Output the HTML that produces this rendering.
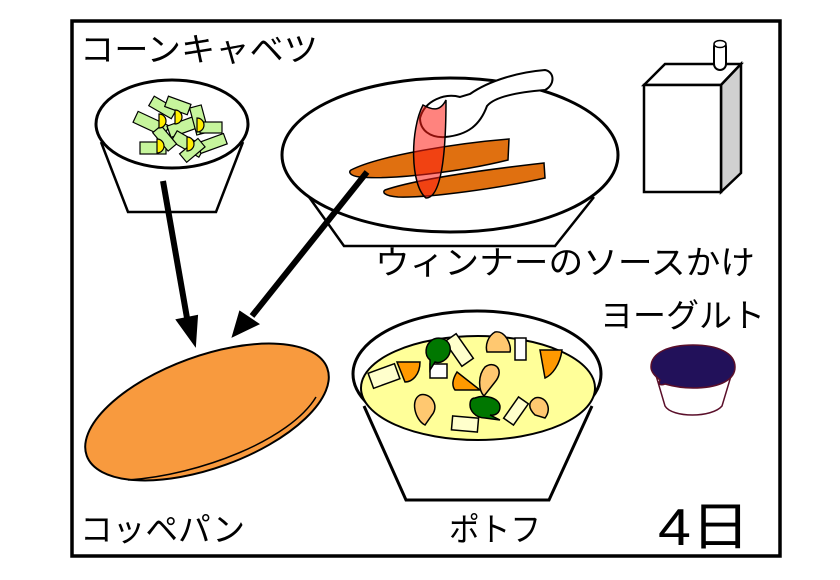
<!DOCTYPE html>
<html><head><meta charset="utf-8"><style>
html,body{margin:0;padding:0;background:#fff;}
svg{display:block;}
text{font-family:"Liberation Sans","Noto Sans CJK JP",sans-serif;fill:#000;}
</style></head><body>
<svg width="840" height="580" viewBox="0 0 840 580" xmlns="http://www.w3.org/2000/svg">
<rect x="72" y="21" width="708" height="535" fill="#fff" stroke="#000" stroke-width="3.5"/>

<!-- salad bowl -->
<path d="M101,142 L128,212 L216,212 L243,142" fill="#fff" stroke="#000" stroke-width="2.5"/>
<ellipse cx="172" cy="124" rx="76" ry="44" fill="#fff" stroke="#000" stroke-width="3"/>
<g fill="#c6f59c" stroke="#000" stroke-width="1.2">
<rect x="134" y="118" width="34" height="12" transform="rotate(25 151 124)"/>
<rect x="150" y="102" width="26" height="11" transform="rotate(30 163 107)"/>
<rect x="140" y="142" width="26" height="12"/>
<rect x="168" y="120" width="34" height="12" transform="rotate(-20 185 126)"/>
<rect x="172" y="138" width="32" height="12" transform="rotate(30 188 144)"/>
<rect x="193" y="106" width="12" height="28" transform="rotate(-15 199 120)"/>
<rect x="198" y="138" width="28" height="11" transform="rotate(-20 212 143)"/>
<rect x="166" y="100" width="24" height="11" transform="rotate(20 178 105)"/>
<rect x="200" y="122" width="22" height="11"/>
<rect x="153" y="133" width="24" height="11" transform="rotate(50 165 138)"/>
<rect x="180" y="145" width="24" height="11" transform="rotate(-40 192 150)"/>
</g>
<g fill="#ffee00" stroke="#000" stroke-width="1.2">
<path d="M159,114 a7,7 0 1 1 0,14 z"/>
<path d="M175,110 a7,7 0 1 1 0,14 z"/>
<path d="M197,118 a7,7 0 1 1 0,14 z"/>
<path d="M157,139 a7,7 0 1 1 0,14 z"/>
<path d="M187,137 a7,7 0 1 1 0,14 z"/>
</g>

<!-- plate -->
<path d="M309,197 L344,246 L555,246 L594,197" fill="#fff" stroke="#000" stroke-width="2.5"/>
<ellipse cx="450" cy="155" rx="168" ry="77" fill="#fff" stroke="#000" stroke-width="3"/>
<path d="M351,170 C380,155 460,143 509,139 L508,160 C460,172 390,180 360,177 C350,176 348,172 351,170 Z" fill="#e07010" stroke="#000" stroke-width="1.5"/>
<path d="M385,190 C420,178 500,168 544,163 L545,178 C500,188 430,198 398,197 C384,196 382,192 385,190 Z" fill="#e07010" stroke="#000" stroke-width="1.5"/>
<path d="M420,118 C425,100 445,93 460,97 L470,94 C490,80 520,72 545,70 C555,72 555,85 545,90 C520,92 495,96 487,106 C480,125 468,135 445,137 C430,138 420,130 420,118 Z" fill="#fff" stroke="#000" stroke-width="2"/>
<path d="M423,105 C410,130 410,185 426,198 C442,198 446,150 446,100 C440,112 432,110 423,105 Z" fill="rgba(255,30,20,0.55)" stroke="#000" stroke-width="1.5"/>

<!-- milk carton -->
<path d="M644,85 L665,64 L741,64 L721,85 Z" fill="#fff" stroke="#000" stroke-width="2.5"/>
<path d="M721,85 L741,64 L741,173 L721,192 Z" fill="#d0d0d0" stroke="#000" stroke-width="2.5"/>
<rect x="644" y="85" width="77" height="107" fill="#fff" stroke="#000" stroke-width="2.5"/>
<rect x="714" y="41" width="12" height="29" rx="6" fill="#fff" stroke="#000" stroke-width="2"/>
<ellipse cx="720" cy="44" rx="6" ry="3.5" fill="#fff" stroke="#000" stroke-width="1.5"/>

<!-- arrows -->
<line x1="163" y1="181" x2="187" y2="318" stroke="#000" stroke-width="6"/>
<path d="M177,320 L197,316 L195,345 Z" fill="#000" stroke="#000" stroke-width="2"/>
<line x1="367" y1="172" x2="252" y2="316" stroke="#000" stroke-width="6"/>
<path d="M240,312 L258,324 L233,336 Z" fill="#000" stroke="#000" stroke-width="2"/>

<!-- bread -->
<ellipse cx="207" cy="412" rx="128" ry="56" transform="rotate(-20 207 412)" fill="#f89a3e" stroke="#000" stroke-width="2"/>
<path d="M128,480 C200,475 290,440 316,397" fill="none" stroke="#000" stroke-width="1.5"/>

<!-- soup bowl -->
<path d="M364,406 L406,500 L549,500 L592,406" fill="#fff" stroke="#000" stroke-width="3"/>
<ellipse cx="477" cy="374" rx="124" ry="63" fill="#fff" stroke="#000" stroke-width="3"/>
<ellipse cx="478" cy="388" rx="117" ry="52" fill="#ffff99" stroke="#000" stroke-width="2"/>
<g stroke="#000" stroke-width="1.5">
<rect x="370" y="368" width="28" height="16" fill="#ffffcc" transform="rotate(-20 384 376)"/>
<rect x="452" y="335" width="14" height="30" fill="#ffffcc" transform="rotate(-35 459 350)"/>
<rect x="515" y="338" width="11" height="22" fill="#fff"/>
<rect x="430" y="364" width="17" height="14" fill="#fff"/>
<rect x="452" y="417" width="26" height="14" fill="#ffffcc" transform="rotate(5 465 424)"/>
<rect x="510" y="398" width="12" height="26" fill="#ffffcc" transform="rotate(35 516 411)"/>
<path d="M397,362 L420,362 C420,375 412,382 405,382 Z" fill="#ff9900"/>
<path d="M540,350 L562,350 C560,365 552,375 545,378 Z" fill="#ff9900"/>
<path d="M457,372 L480,390 L455,390 C452,386 452,380 457,372 Z" fill="#ff9900"/>
<path d="M495,332 C505,330 512,345 510,352 L487,352 C485,345 488,336 495,332 Z" fill="#ffc870"/>
<path d="M485,367 C495,360 505,370 495,382 L484,396 C478,390 478,375 485,367 Z" fill="#ffc870"/>
<path d="M420,395 C430,392 440,405 432,415 L425,425 C415,420 410,400 420,395 Z" fill="#ffc870"/>
<path d="M535,398 C545,395 553,408 545,418 L535,415 C528,408 528,402 535,398 Z" fill="#ffc870"/>
<path d="M432,340 C440,335 452,340 450,352 C448,360 440,364 435,362 L430,370 L430,360 C424,355 425,345 432,340 Z" fill="#007700"/>
<path d="M475,398 C485,394 500,398 500,407 C500,413 495,416 490,415 L500,420 L485,418 C475,418 470,410 470,405 C470,400 472,398 475,398 Z" fill="#007700"/>
</g>

<!-- yogurt -->
<path d="M655,372 L665,406 C672,418 712,418 722,406 L734,366" fill="#fff" stroke="#5a0f2a" stroke-width="1.5"/>
<path d="M651,367 C651,352 670,345 693,345 C718,345 735,353 735,367 C735,382 715,388 693,388 C680,388 672,386 665,384 C660,386 658,384 660,380 C655,376 651,372 651,367 Z" fill="#22115a" stroke="#5a0f2a" stroke-width="1.5"/>

<!-- labels -->
<text x="80" y="61" font-size="33" textLength="238" lengthAdjust="spacingAndGlyphs">コーンキャベツ</text>
<text x="375" y="274" font-size="33" textLength="380" lengthAdjust="spacingAndGlyphs">ウィンナーのソースかけ</text>
<text x="600" y="327" font-size="33" textLength="165" lengthAdjust="spacingAndGlyphs">ヨーグルト</text>
<text x="80" y="541" font-size="33" textLength="165" lengthAdjust="spacingAndGlyphs">コッペパン</text>
<text x="449" y="541" font-size="33" textLength="92" lengthAdjust="spacingAndGlyphs">ポトフ</text>
<text x="658" y="545" font-size="52" textLength="92" lengthAdjust="spacingAndGlyphs">4日</text>
</svg>
</body></html>
